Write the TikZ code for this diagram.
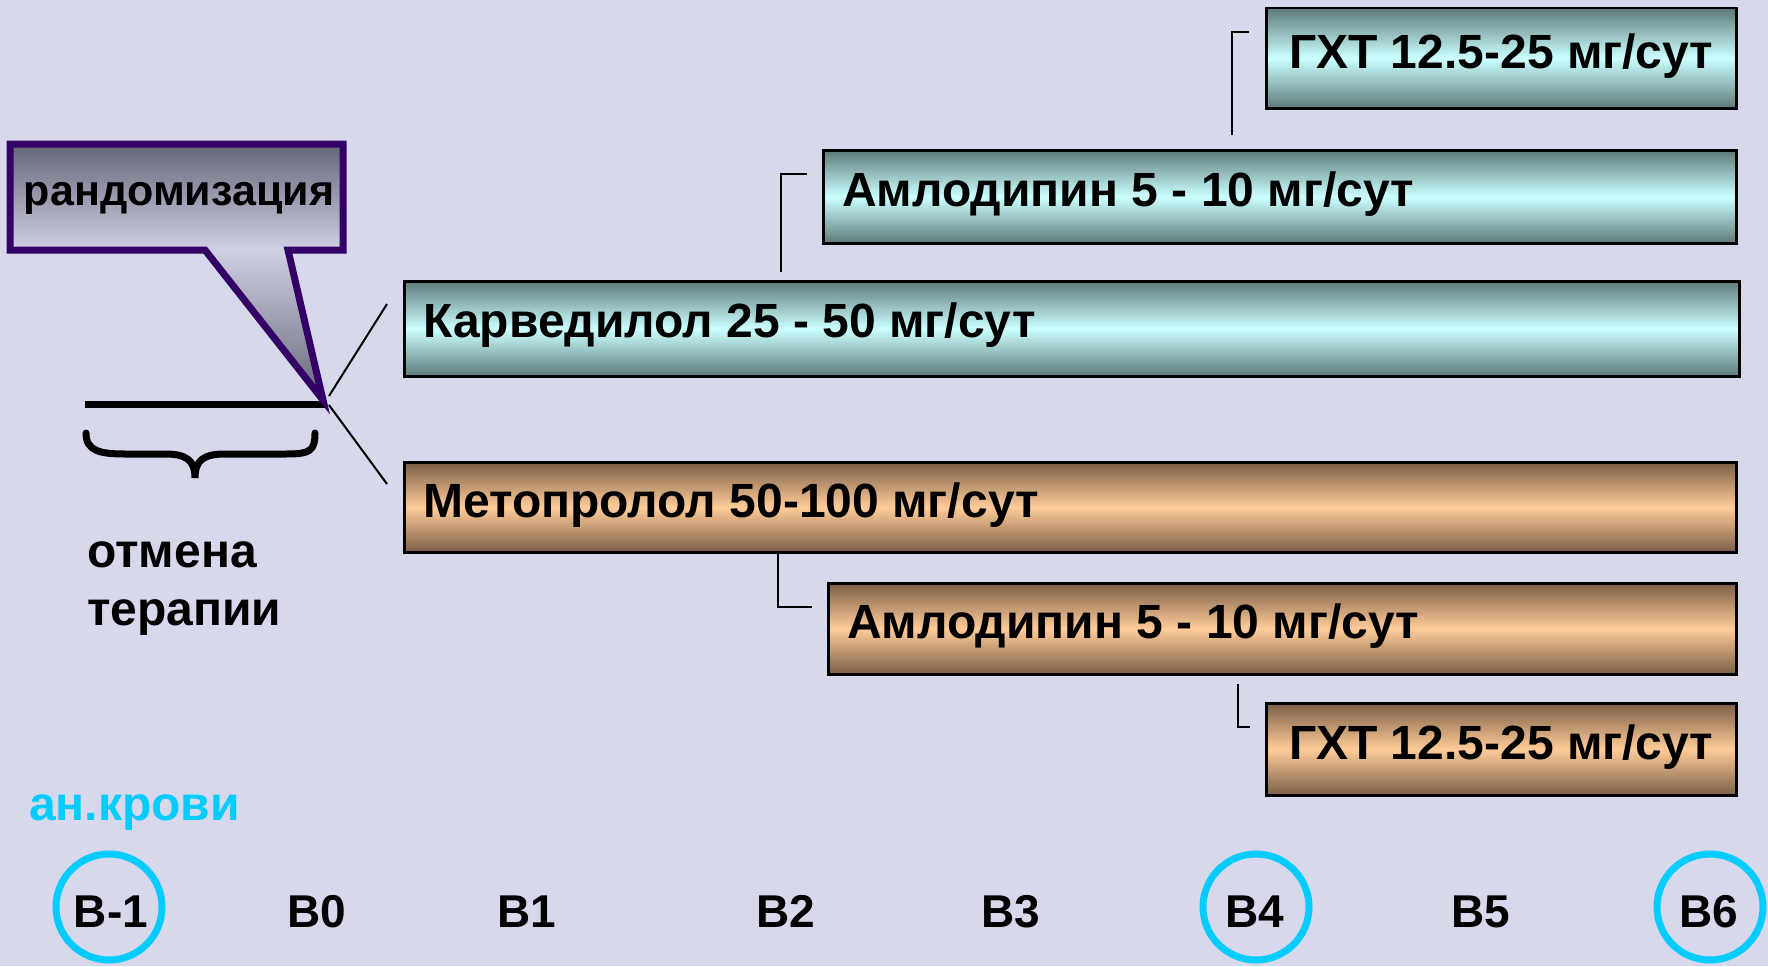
\documentclass[tikz,border=0pt]{standalone}
\usepackage{fontspec}
\setmainfont{Liberation Sans}
\definecolor{bgc}{HTML}{D8D8EC}
\definecolor{tealdark}{HTML}{5E7A7A}
\definecolor{teallight}{HTML}{CCFFFF}
\definecolor{orgdark}{HTML}{7A5E46}
\definecolor{orglight}{HTML}{FFCC99}
\definecolor{calldark}{HTML}{66667A}
\definecolor{calllight}{HTML}{D0D0E4}
\definecolor{callborder}{HTML}{330066}
\definecolor{cyanc}{HTML}{00CCFF}
\begin{document}
\begin{tikzpicture}[x=1pt,y=-1pt,
  bar/.style={draw=black,line width=2.5pt,anchor=north west,inner sep=0pt},
  tealbar/.style={bar,top color=tealdark,bottom color=tealdark,middle color=teallight},
  orangebar/.style={bar,top color=orgdark,bottom color=orgdark,middle color=orglight},
  bartext/.style={font=\fontsize{48}{52}\selectfont\bfseries,inner sep=0pt},
  link/.style={line width=2pt,black},
  visit/.style={font=\fontsize{46}{50}\selectfont\bfseries,inner sep=0pt,anchor=base},
  ring/.style={draw=cyanc,line width=7pt,circle,minimum size=106pt,inner sep=0pt},
  plain/.style={font=\fontsize{48}{52}\selectfont\bfseries,inner sep=0pt,anchor=base west}
]
% canvas
\fill[bgc] (0,0) rectangle (1768,966);
\useasboundingbox (0,0) rectangle (1768,966);

% treatment bars
\node[tealbar,minimum width=470pt,minimum height=100pt] (gxtA) at (1265,7) {};
\node[tealbar,minimum width=913pt,minimum height=93pt] (amlA) at (822,149) {};
\node[tealbar,minimum width=1335pt,minimum height=95pt] (carv) at (403,280) {};
\node[orangebar,minimum width=1332pt,minimum height=90pt] (meto) at (403,461) {};
\node[orangebar,minimum width=908pt,minimum height=91pt] (amlB) at (827,582) {};
\node[orangebar,minimum width=470pt,minimum height=92pt] (gxtB) at (1265,702) {};

\node[bartext,anchor=base] (gxtAt) at ([yshift=-10pt]gxtA.center) {ГХТ 12.5-25 мг/сут};
\node[bartext,anchor=base west] (amlAt) at ([xshift=20pt,yshift=-10pt]amlA.west) {Амлодипин 5 - 10 мг/сут};
\node[bartext,anchor=base west] (carvt) at ([xshift=20pt,yshift=-9pt]carv.west) {Карведилол 25 - 50 мг/сут};
\node[bartext,anchor=base west] (metot) at ([xshift=20pt,yshift=-10pt]meto.west) {Метопролол 50-100 мг/сут};
\node[bartext,anchor=base west] (amlBt) at ([xshift=20pt,yshift=-10pt]amlB.west) {Амлодипин 5 - 10 мг/сут};
\node[bartext,anchor=base] (gxtBt) at ([yshift=-10pt]gxtB.center) {ГХТ 12.5-25 мг/сут};

% step-up connectors
\coordinate (amlAfoot) at (1232,135);
\coordinate (gxtAin) at (1249,32);
\draw[link] (amlAfoot) |- (gxtAin);
\coordinate (carvfoot) at (781,272);
\coordinate (amlAin) at (807,174);
\draw[link] (carvfoot) |- (amlAin);
\coordinate (metofoot) at (778,551);
\coordinate (amlBin) at (812,607);
\draw[link] (metofoot) |- (amlBin);
\coordinate (amlBfoot) at (1238,684);
\coordinate (gxtBin) at (1250,727);
\draw[link] (amlBfoot) |- (gxtBin);

% run-in period and randomisation branches
\coordinate (runA) at (85,404);
\coordinate (tip) at (325,404);
\draw[line width=7pt] (runA) -- (tip);
\coordinate (upA) at (329,396);
\coordinate (upB) at (387,304);
\coordinate (dnA) at (329,405);
\coordinate (dnB) at (387,484);
\draw[line width=2pt] (upA) -- (upB);
\draw[line width=2pt] (dnA) -- (dnB);

% curly brace under the run-in line
\draw[line width=7pt,line cap=round]
  (86,433) .. controls (86,451) and (100,454) .. (125,454) -- (165,454)
  .. controls (186,454) and (195,460) .. (195,478)
  .. controls (195,460) and (204,454) .. (225,454) -- (286,454)
  .. controls (310,454) and (315,451) .. (315,433);

\node[plain] (offA) at (87,567) {отмена};
\node[plain] (offB) at (87,625) {терапии};

% randomisation callout
\fill[top color=calldark,bottom color=calllight] (10,144) rectangle (343,250);
\fill[top color=calllight,bottom color=calldark] (205,250) -- (288,250) -- (323,400) -- cycle;
\draw[callborder,line width=7pt,line join=miter]
  (10,144) -- (343,144) -- (343,250) -- (288,250) -- (323,400) -- (205,250) -- (10,250) -- cycle;
\node[font=\fontsize{43}{47}\selectfont\bfseries,inner sep=0pt,anchor=base] (rand) at (179,205) {рандомизация};

% visits
\node[plain,text=cyanc] (blood) at (29,820) {ан.крови};
\node[ring] (ringA) at (109,907) {};
\node[ring] (ringB) at (1256,907) {};
\node[ring] (ringC) at (1710,907) {};
\node[visit] (vm1) at (111,927) {В-1};
\node[visit] (v0) at (317,927) {В0};
\node[visit] (v1) at (527,927) {В1};
\node[visit] (v2) at (786,927) {В2};
\node[visit] (v3) at (1011,927) {В3};
\node[visit] (v4) at (1255,927) {В4};
\node[visit] (v5) at (1481,927) {В5};
\node[visit] (v6) at (1709,927) {В6};
\end{tikzpicture}
\end{document}
